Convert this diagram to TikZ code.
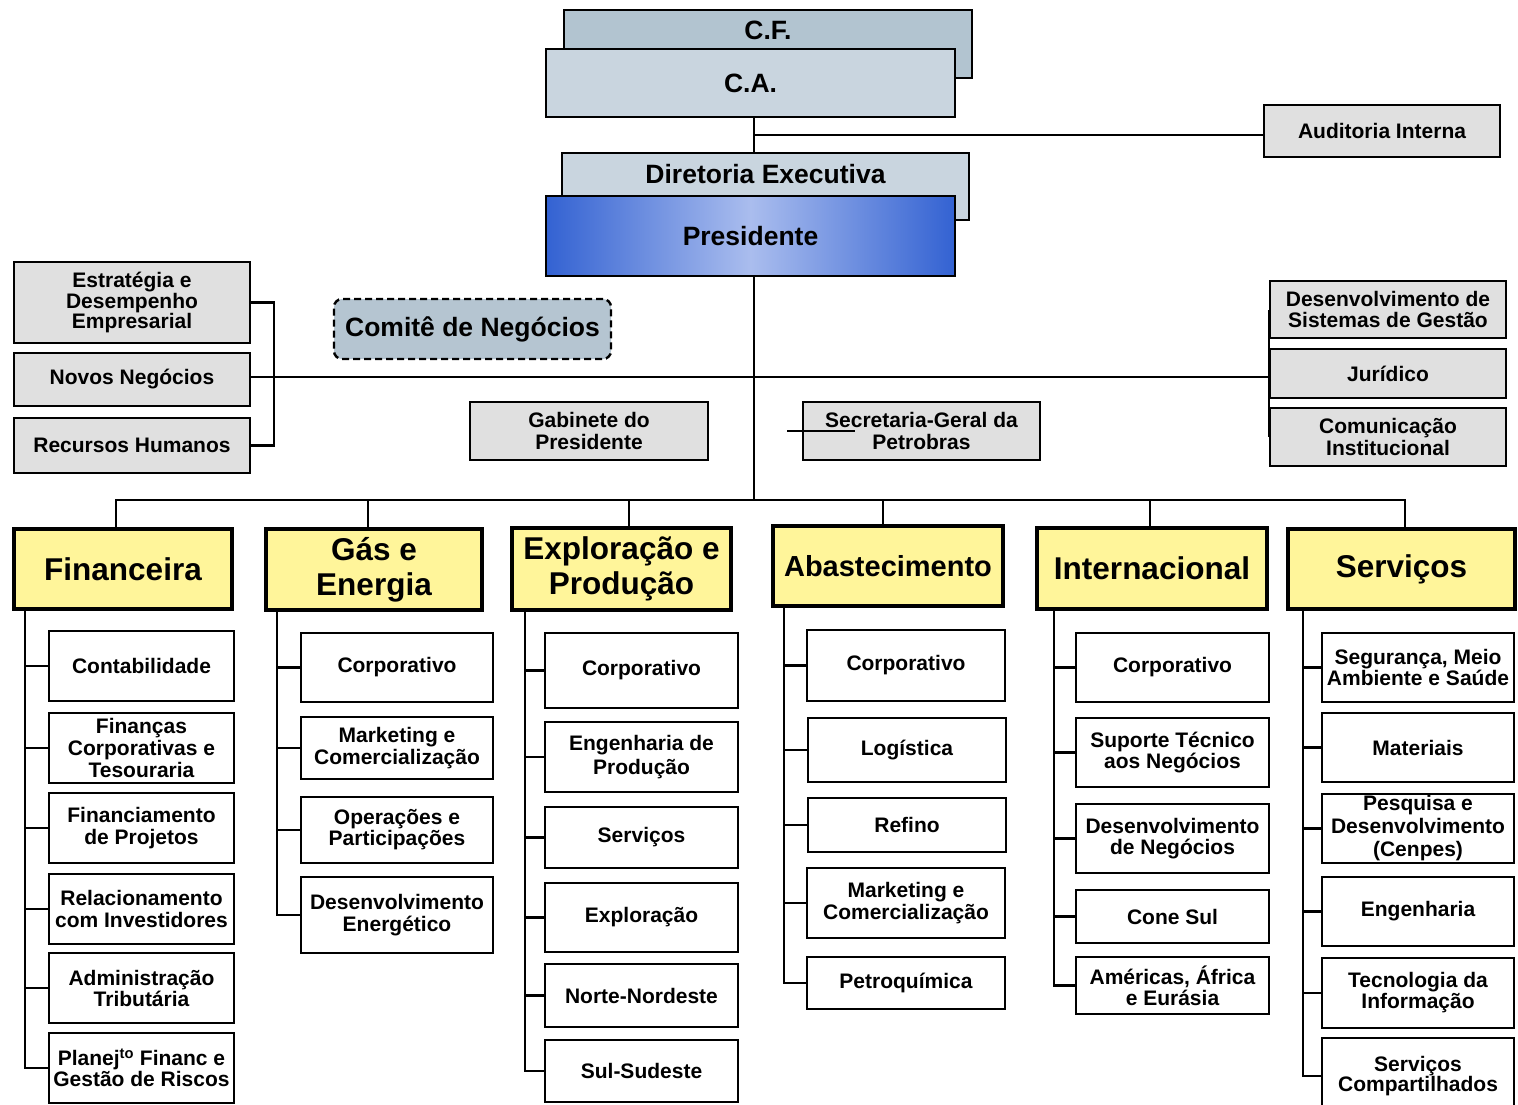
\documentclass[tikz,border=0pt]{standalone}
\usepackage{fontspec}
\setmainfont{Liberation Sans}
\definecolor{cfblue}{HTML}{B2C4D0}
\definecolor{cablue}{HTML}{C9D5DF}
\definecolor{grayfill}{HTML}{E0E0E0}
\definecolor{comfill}{HTML}{B5C5D1}
\definecolor{headyellow}{HTML}{FFF59A}
\definecolor{presedge}{HTML}{3362D2}
\definecolor{presmid}{HTML}{AABDEE}
\begin{document}
\begin{tikzpicture}[x=1pt,y=-1pt,
  every node/.style={inner sep=0pt, align=center, font=\bfseries},
  sz/.style 2 args={minimum width=#1pt, minimum height=#2pt},
  bigtxt/.style={font=\fontsize{26.5}{28}\selectfont\bfseries},
  smalltxt/.style={font=\fontsize{21}{22}\selectfont\bfseries},
  cfbox/.style={draw, line width=2.4pt, fill=cfblue},
  cabox/.style={draw, line width=2.4pt, fill=cablue, bigtxt},
  presbox/.style={draw, line width=2.4pt, left color=presedge, right color=presedge, middle color=presmid, bigtxt},
  graybox/.style={draw, line width=2.4pt, fill=grayfill, smalltxt},
  commbox/.style={draw, line width=2.4pt, dash pattern=on 7pt off 4pt, rounded corners=8pt, fill=comfill, bigtxt},
  head/.style={draw, line width=3.4pt, fill=headyellow, font=\fontsize{31.5}{35}\selectfont\bfseries},
  unit/.style={draw, line width=2.6pt, fill=white, smalltxt},
  link/.style={line width=2.4pt},
  thinlink/.style={line width=1.4pt}]

\fill[white] (0,0) rectangle (1518,1105);
\useasboundingbox (0,0) rectangle (1518,1105);

% ---- boards and president ----
\node[cfbox, sz={408}{68}] (cf) at (768,44) {};
\node[bigtxt] (cft) at (768,30) {C.F.};
\node[cabox, sz={409}{68}] (ca) at (750.5,83) {C.A.};
\node[graybox, sz={236}{52}] (aud) at (1382,131) {Auditoria Interna};
\coordinate (ja) at (754,135);
\draw[link] (ca.south -| ja) -- (ja);
\draw[link] (ja) -- (ja -| aud.west);
\draw[link] (ja) -- (ja |- 0,153);
\node[cabox, sz={407}{67}] (dir) at (765.5,186.5) {};
\node[bigtxt] (dirt) at (765.5,174) {Diretoria Executiva};
\node[presbox, sz={409}{80}] (pres) at (750.5,236) {Presidente};

% ---- staff units ----
\node[graybox, sz={236}{81}, font=\fontsize{21}{20.5}\selectfont\bfseries] (est) at (132,302.5) {Estratégia e\\Desempenho\\Empresarial};
\node[graybox, sz={236}{53}] (nov) at (132,379.5) {Novos Negócios};
\node[graybox, sz={236}{55}] (rh) at (132,445.5) {Recursos Humanos};
\node[commbox, sz={277}{60}] (comite) at (472.5,329) {Comitê de Negócios};
\node[graybox, sz={238}{58}] (gab) at (589,431) {Gabinete do\\Presidente};
\node[graybox, sz={237}{58}] (sec) at (921.5,431) {Secretaria-Geral da\\Petrobras};
\node[graybox, sz={236}{57}, font=\fontsize{21}{21}\selectfont\bfseries] (dsg) at (1388,309.5) {Desenvolvimento de\\Sistemas de Gestão};
\node[graybox, sz={236}{49}] (jur) at (1388,373.5) {Jurídico};
\node[graybox, sz={236}{58}] (comu) at (1388,437) {Comunicação\\Institucional};

\coordinate (hl) at (0,377);
\draw[link] (est.east) -- ++(23,0) |- (rh.east);
\draw[link] (nov.east |- hl) -- (jur.west |- hl);
\draw[thinlink] (dsg.west) -- (comu.west);
\coordinate (sx) at (787,431);
\coordinate (sy) at (855,431);
\draw[line width=1.6pt] (sx) -- (sy);

% ---- directorates ----
\coordinate (bus) at (754,500);
\draw[link] (pres.south -| bus) -- (bus);

\node[head, sz={218}{80}] (fin) at (123,569) {Financeira};
\node[head, sz={216}{81}] (gas) at (374,569.5) {Gás e\\Energia};
\node[head, sz={219}{82}] (ep) at (621.5,569) {Exploração e\\Produção};
\node[head, sz={230}{80}, font=\fontsize{29}{33}\selectfont\bfseries] (aba) at (888,566) {Abastecimento};
\node[head, sz={230}{81}] (int) at (1152,568.5) {Internacional};
\node[head, sz={227}{80}] (serv) at (1401.5,569) {Serviços};

\coordinate (b1) at (116,500);
\coordinate (b2) at (368,500);
\coordinate (b3) at (629,500);
\coordinate (b4) at (883,500);
\coordinate (b5) at (1150,500);
\coordinate (b6) at (1405,500);
\draw[link] (b1 |- fin.north) -- (b1) -- (b6) -- (b6 |- serv.north);
\draw[link] (b2) -- (b2 |- gas.north);
\draw[link] (b3) -- (b3 |- ep.north);
\draw[link] (b4) -- (b4 |- aba.north);
\draw[link] (b5) -- (b5 |- int.north);

% ---- Financeira ----
\node[unit, sz={185}{70}] (f1) at (141.5,666) {Contabilidade};
\node[unit, sz={185}{70}] (f2) at (141.5,748) {Finanças\\Corporativas e\\Tesouraria};
\node[unit, sz={185}{70}] (f3) at (141.5,828) {Financiamento\\de Projetos};
\node[unit, sz={185}{70}] (f4) at (141.5,909) {Relacionamento\\com Investidores};
\node[unit, sz={185}{70}, font=\fontsize{21}{21}\selectfont\bfseries] (f5) at (141.5,988) {Administração\\Tributária};
\node[unit, sz={185}{70}, font=\fontsize{21}{21}\selectfont\bfseries] (f6) at (141.5,1068) {Planej\textsuperscript{to} Financ e\\Gestão de Riscos};
\coordinate (fx) at (25,0);
\draw[link] (fin.south -| fx) |- (f6.west);
\foreach \n in {f1,f2,f3,f4,f5} \draw[link] (fx |- \n.west) -- (\n.west);

% ---- Gás e Energia ----
\node[unit, sz={192}{69}] (g1) at (397,667.5) {Corporativo};
\node[unit, sz={192}{62}] (g2) at (397,748) {Marketing e\\Comercialização};
\node[unit, sz={192}{66}, font=\fontsize{21}{21}\selectfont\bfseries] (g3) at (397,830) {Operações e\\Participações};
\node[unit, sz={192}{76}] (g4) at (397,915) {Desenvolvimento\\Energético};
\coordinate (gx) at (277,0);
\draw[link] (gas.south -| gx) |- (g4.west);
\foreach \n in {g1,g2,g3} \draw[link] (gx |- \n.west) -- (\n.west);

% ---- Exploração e Produção ----
\node[unit, sz={193}{75}] (e1) at (641.5,670.5) {Corporativo};
\node[unit, sz={193}{70}, font=\fontsize{21}{24}\selectfont\bfseries] (e2) at (641.5,757) {Engenharia de\\Produção};
\node[unit, sz={193}{61}] (e3) at (641.5,837.5) {Serviços};
\node[unit, sz={193}{69}] (e4) at (641.5,917.5) {Exploração};
\node[unit, sz={193}{63}] (e5) at (641.5,995.5) {Norte-Nordeste};
\node[unit, sz={193}{62}] (e6) at (641.5,1071) {Sul-Sudeste};
\coordinate (ex) at (525,0);
\draw[link] (ep.south -| ex) |- (e6.west);
\foreach \n in {e1,e2,e3,e4,e5} \draw[link] (ex |- \n.west) -- (\n.west);

% ---- Abastecimento ----
\node[unit, sz={198}{71}] (a1) at (906,665.5) {Corporativo};
\node[unit, sz={198}{64}] (a2) at (907,750) {Logística};
\node[unit, sz={198}{54}] (a3) at (907,825) {Refino};
\node[unit, sz={198}{70}] (a4) at (906,903) {Marketing e\\Comercialização};
\node[unit, sz={198}{52}] (a5) at (906,983) {Petroquímica};
\coordinate (ax) at (784,0);
\draw[link] (aba.south -| ax) |- (a5.west);
\foreach \n in {a1,a2,a3,a4} \draw[link] (ax |- \n.west) -- (\n.west);

% ---- Internacional ----
\node[unit, sz={193}{69}] (i1) at (1172.5,667.5) {Corporativo};
\node[unit, sz={193}{69}, font=\fontsize{21}{21}\selectfont\bfseries] (i2) at (1172.5,752.5) {Suporte Técnico\\aos Negócios};
\node[unit, sz={193}{69}, font=\fontsize{21}{21}\selectfont\bfseries] (i3) at (1172.5,838.5) {Desenvolvimento\\de Negócios};
\node[unit, sz={193}{53}] (i4) at (1172.5,916.5) {Cone Sul};
\node[unit, sz={193}{57}, font=\fontsize{21}{21}\selectfont\bfseries] (i5) at (1172.5,985.5) {Américas, África\\e Eurásia};
\coordinate (ix) at (1054,0);
\draw[link] (int.south -| ix) |- (i5.west);
\foreach \n in {i1,i2,i3,i4} \draw[link] (ix |- \n.west) -- (\n.west);

% ---- Serviços ----
\node[unit, sz={192}{69}, font=\fontsize{21}{21}\selectfont\bfseries] (s1) at (1418,667.5) {Segurança, Meio\\Ambiente e Saúde};
\node[unit, sz={192}{69}] (s2) at (1418,747.5) {Materiais};
\node[unit, sz={192}{69}, font=\fontsize{21}{23}\selectfont\bfseries] (s3) at (1418,828.5) {Pesquisa e\\Desenvolvimento\\(Cenpes)};
\node[unit, sz={192}{69}] (s4) at (1418,911.5) {Engenharia};
\node[unit, sz={192}{70}, font=\fontsize{21}{21}\selectfont\bfseries] (s5) at (1418,993) {Tecnologia da\\Informação};
\node[unit, sz={192}{76}, font=\fontsize{21}{20}\selectfont\bfseries] (s6) at (1418,1076) {Serviços\\Compartilhados};
\coordinate (sv) at (1303,0);
\draw[link] (serv.south -| sv) |- (s6.west);
\foreach \n in {s1,s2,s3,s4,s5} \draw[link] (sv |- \n.west) -- (\n.west);

\end{tikzpicture}
\end{document}
